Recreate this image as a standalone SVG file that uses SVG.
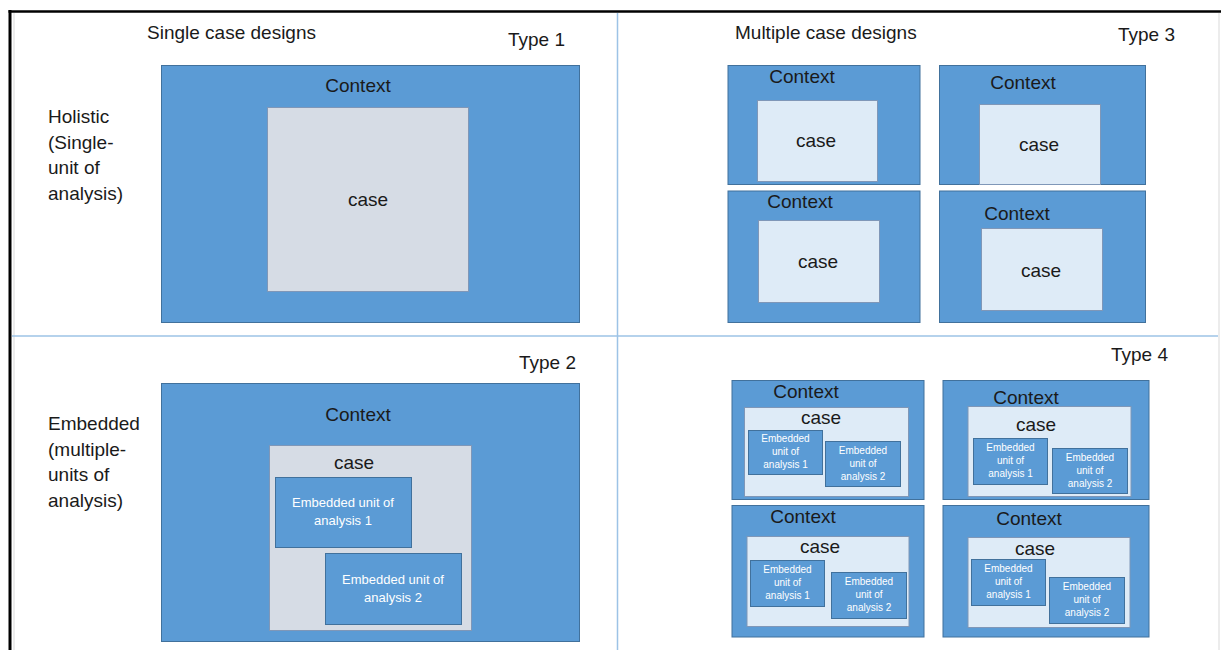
<svg xmlns="http://www.w3.org/2000/svg" width="1221" height="650" viewBox="0 0 1221 650">
<style>
text{font-family:"Liberation Sans",Arial,sans-serif;fill:#1a1a1a}
.t{font-size:19px}
.m{text-anchor:middle}
.ctx{fill:#5B9BD5;stroke:#41719C;stroke-width:1}
.cg{fill:#D6DCE5;stroke:#7F97B8;stroke-width:1}
.cb{fill:#DEEBF7;stroke:#7F97B8;stroke-width:1}
.emb{fill:#5B9BD5;stroke:#41719C;stroke-width:1}
.ew{fill:#ffffff;text-anchor:middle;font-size:13px}
.es{fill:#ffffff;text-anchor:middle;font-size:10px}
.div{stroke:#9DC3E6;stroke-width:1.5;fill:none}
</style>
<rect width="1221" height="650" fill="#ffffff"/>
<g id="frame">
<line x1="14" y1="13" x2="14" y2="650" stroke="#d9d9d9" stroke-width="1"/>
<line x1="1219" y1="13" x2="1219" y2="650" stroke="#d9d9d9" stroke-width="1"/>
<line x1="8.5" y1="11.5" x2="1221" y2="11.5" stroke="#000" stroke-width="2.5"/>
<line x1="10" y1="10" x2="10" y2="650" stroke="#000" stroke-width="3"/>
<line class="div" x1="617.5" y1="13" x2="617.5" y2="650"/>
<line class="div" x1="12" y1="336" x2="1218" y2="336"/>
</g>
<g id="labels">
<text class="t" x="147" y="39">Single case designs</text>
<text class="t" x="508" y="46">Type 1</text>
<text class="t" x="735" y="39">Multiple case designs</text>
<text class="t" x="1118" y="41">Type 3</text>
<text class="t" x="519" y="369">Type 2</text>
<text class="t" x="1111" y="361">Type 4</text>
<text class="t" x="48" y="123">Holistic</text>
<text class="t" x="48" y="148.5">(Single-</text>
<text class="t" x="48" y="174">unit of</text>
<text class="t" x="48" y="199.5">analysis)</text>
<text class="t" x="48" y="430">Embedded</text>
<text class="t" x="48" y="455.5">(multiple-</text>
<text class="t" x="48" y="481">units of</text>
<text class="t" x="48" y="506.5">analysis)</text>
</g>
<g id="type1">
<rect class="ctx" x="161.5" y="65.5" width="418" height="257"/>
<text class="t m" x="358" y="92">Context</text>
<rect class="cg" x="267.5" y="107.5" width="201" height="184"/>
<text class="t m" x="368" y="206">case</text>
</g>
<g id="type2">
<rect class="ctx" x="161.5" y="383.5" width="418" height="258"/>
<text class="t m" x="358" y="421">Context</text>
<rect class="cg" x="269.5" y="445.5" width="202" height="185"/>
<text class="t m" x="354" y="469">case</text>
<rect class="emb" x="275.5" y="477.5" width="136" height="70"/>
<text class="ew" x="343" y="507">Embedded unit of</text>
<text class="ew" x="343" y="525">analysis 1</text>
<rect class="emb" x="325.5" y="553.5" width="136" height="71"/>
<text class="ew" x="393" y="584">Embedded unit of</text>
<text class="ew" x="393" y="602">analysis 2</text>
</g>
<g id="type3">
<g id="t3-tl">
<rect class="ctx" x="728" y="65.5" width="192" height="119"/>
<text class="t m" x="802" y="83">Context</text>
<rect class="cb" x="757.5" y="100.5" width="120" height="81"/>
<text class="t m" x="816" y="147">case</text>
</g>
<g id="t3-tr">
<rect class="ctx" x="939.5" y="65.5" width="206" height="119"/>
<text class="t m" x="1023" y="89">Context</text>
<rect class="cb" x="979.5" y="104.5" width="121" height="80"/>
<text class="t m" x="1039" y="151">case</text>
</g>
<g id="t3-bl">
<rect class="ctx" x="728" y="191" width="192" height="131.5"/>
<text class="t m" x="800" y="208">Context</text>
<rect class="cb" x="758.5" y="220.5" width="121" height="82"/>
<text class="t m" x="818" y="268">case</text>
</g>
<g id="t3-br">
<rect class="ctx" x="939.5" y="191" width="206" height="131.5"/>
<text class="t m" x="1017" y="220">Context</text>
<rect class="cb" x="981.5" y="228.5" width="121" height="82"/>
<text class="t m" x="1041" y="277">case</text>
</g>
</g>
<g id="type4">
<g id="t4-tl">
<rect class="ctx" x="732" y="380.5" width="192" height="119"/>
<text class="t m" x="806" y="398">Context</text>
<rect class="cb" x="744.5" y="407.5" width="164" height="89"/>
<text class="t m" x="821" y="424">case</text>
<rect class="emb" x="748.5" y="430.5" width="74" height="44"/>
<text class="es" x="785.5" y="442">Embedded</text>
<text class="es" x="785.5" y="455">unit of</text>
<text class="es" x="785.5" y="468">analysis 1</text>
<rect class="emb" x="825.5" y="441.5" width="75" height="45"/>
<text class="es" x="863" y="454">Embedded</text>
<text class="es" x="863" y="467">unit of</text>
<text class="es" x="863" y="480">analysis 2</text>
</g>
<g id="t4-tr">
<rect class="ctx" x="943" y="380.5" width="206" height="119"/>
<text class="t m" x="1026" y="404">Context</text>
<rect class="cb" x="968" y="406.5" width="163" height="90"/>
<text class="t m" x="1036" y="431">case</text>
<rect class="emb" x="973.5" y="438.5" width="74" height="46"/>
<text class="es" x="1010.5" y="451">Embedded</text>
<text class="es" x="1010.5" y="464">unit of</text>
<text class="es" x="1010.5" y="477">analysis 1</text>
<rect class="emb" x="1052.5" y="448.5" width="75" height="45"/>
<text class="es" x="1090" y="461">Embedded</text>
<text class="es" x="1090" y="474">unit of</text>
<text class="es" x="1090" y="487">analysis 2</text>
</g>
<g id="t4-bl">
<rect class="ctx" x="732" y="505.5" width="192" height="131.5"/>
<text class="t m" x="803" y="523">Context</text>
<rect class="cb" x="747" y="536.5" width="162" height="90"/>
<text class="t m" x="820" y="553">case</text>
<rect class="emb" x="750.5" y="560.5" width="74" height="46"/>
<text class="es" x="787.5" y="573">Embedded</text>
<text class="es" x="787.5" y="586">unit of</text>
<text class="es" x="787.5" y="599">analysis 1</text>
<rect class="emb" x="831.5" y="572.5" width="75" height="46"/>
<text class="es" x="869" y="585">Embedded</text>
<text class="es" x="869" y="598">unit of</text>
<text class="es" x="869" y="611">analysis 2</text>
</g>
<g id="t4-br">
<rect class="ctx" x="943" y="505.5" width="206" height="131.5"/>
<text class="t m" x="1029" y="525">Context</text>
<rect class="cb" x="968" y="537.5" width="162" height="90"/>
<text class="t m" x="1035" y="555">case</text>
<rect class="emb" x="971.5" y="559.5" width="74" height="46"/>
<text class="es" x="1008.5" y="572">Embedded</text>
<text class="es" x="1008.5" y="585">unit of</text>
<text class="es" x="1008.5" y="598">analysis 1</text>
<rect class="emb" x="1049.5" y="577.5" width="75" height="46"/>
<text class="es" x="1087" y="590">Embedded</text>
<text class="es" x="1087" y="603">unit of</text>
<text class="es" x="1087" y="616">analysis 2</text>
</g>
</g>
</svg>
